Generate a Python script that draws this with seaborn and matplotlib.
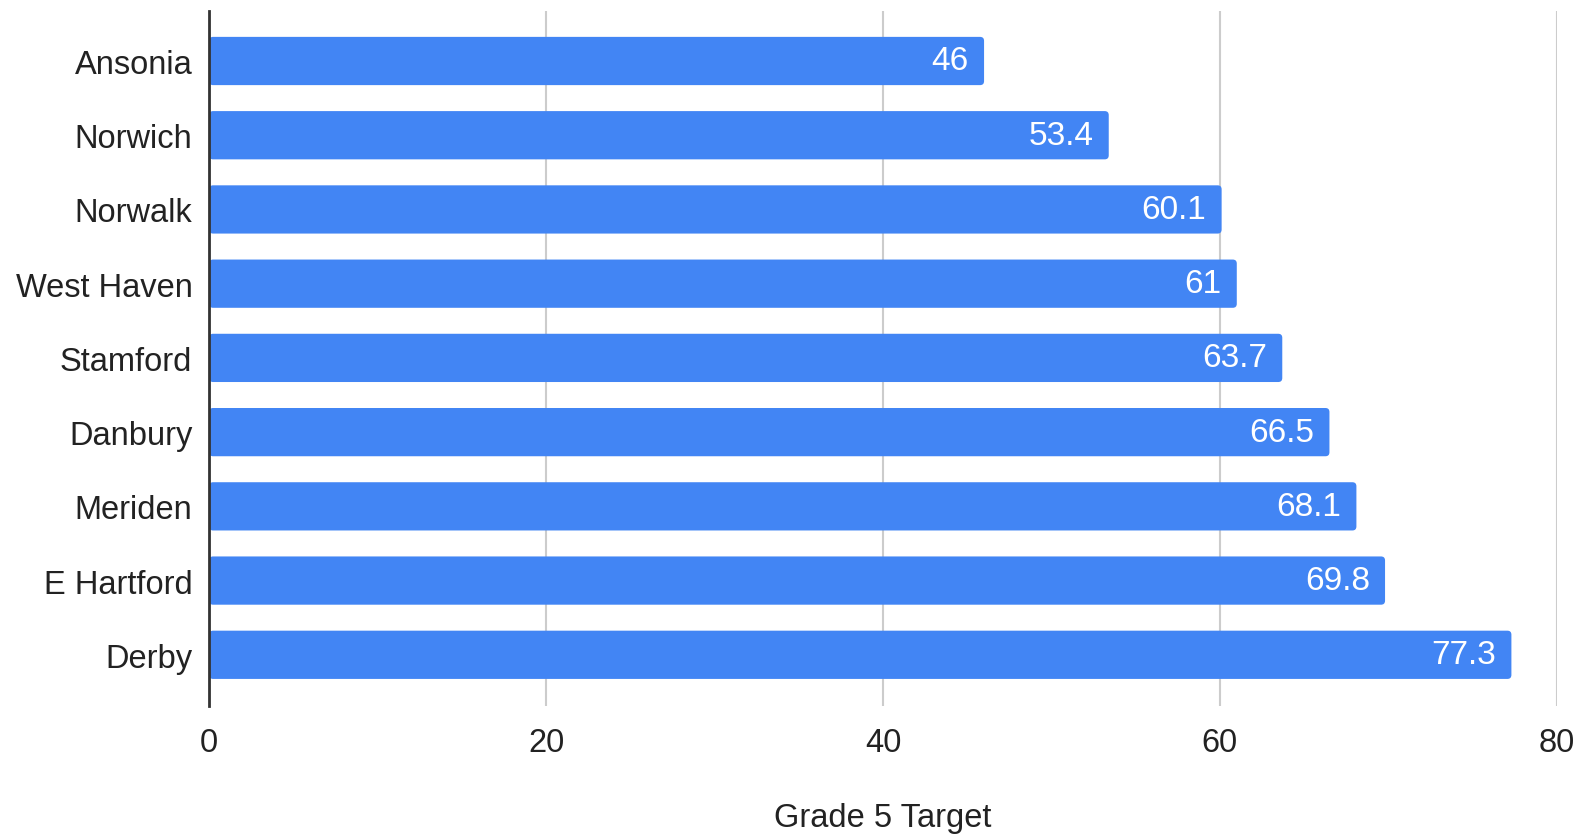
import matplotlib
matplotlib.use("Agg")
import matplotlib.pyplot as plt
from matplotlib.patches import FancyBboxPatch
import seaborn as sns
import pandas as pd

cities = ["Ansonia", "Norwich", "Norwalk", "West Haven", "Stamford",
          "Danbury", "Meriden", "E Hartford", "Derby"]
targets = [46, 53.4, 60.1, 61, 63.7, 66.5, 68.1, 69.8, 77.3]
x_ticks = [0, 20, 40, 60, 80]
x_title = "Grade 5 Target"

df = pd.DataFrame({"city": cities, "target": targets})

sns.set_theme(style="white")
plt.rcParams["font.family"] = ["Liberation Sans", "DejaVu Sans"]

fig = plt.figure(figsize=(15.79, 8.37), dpi=100)
ax = fig.add_axes([0.1324, 0.1553, 0.8536, 0.8304])

sns.barplot(data=df, x="target", y="city", order=cities, color="#4285F4",
            saturation=1, width=0.65, ax=ax, zorder=3)

ax.set_xlim(0, 80)
ax.set_ylim(8.69, -0.674)

# swap the plain rectangles for ones with slightly rounded corners
px_per_x = ax.get_window_extent().width / 80
px_per_y = ax.get_window_extent().height / (8.69 + 0.674)
radius_px = 4
for patch, val in zip(list(ax.patches), targets):
    x0, y0 = patch.get_x(), patch.get_y()
    w, h = patch.get_width(), patch.get_height()
    color = patch.get_facecolor()
    patch.remove()
    rx = radius_px / px_per_x
    ry = radius_px / px_per_y
    box = FancyBboxPatch((x0, y0), w, h,
                         boxstyle=f"round,pad=0,rounding_size={rx}",
                         mutation_aspect=ry / rx,
                         facecolor=color, edgecolor="none", zorder=3)
    ax.add_patch(box)
    ax.annotate(f"{val:g}", xy=(w, y0 + h / 2), xytext=(-11, 0),
                textcoords="offset points", ha="right", va="center",
                color="white", fontsize=24, zorder=4)

ax.set_xticks(x_ticks)
ax.set_xticklabels([str(t) for t in x_ticks])
ax.grid(axis="x", color="#cccccc", linewidth=1.5, zorder=0)
ax.grid(axis="y", visible=False)

for side in ["top", "right", "bottom"]:
    ax.spines[side].set_visible(False)
ax.spines["left"].set_color("#333333")
ax.spines["left"].set_linewidth(2)
ax.spines["left"].set_zorder(5)

ax.tick_params(axis="y", length=0, pad=12, labelsize=23.5, labelcolor="#222222")
ax.tick_params(axis="x", length=0, pad=15, labelsize=23.5, labelcolor="#222222")
ax.set_ylabel("")
ax.set_xlabel(x_title, fontsize=23.5, color="#222222", labelpad=32)

fig.savefig("out.png", dpi=100)
